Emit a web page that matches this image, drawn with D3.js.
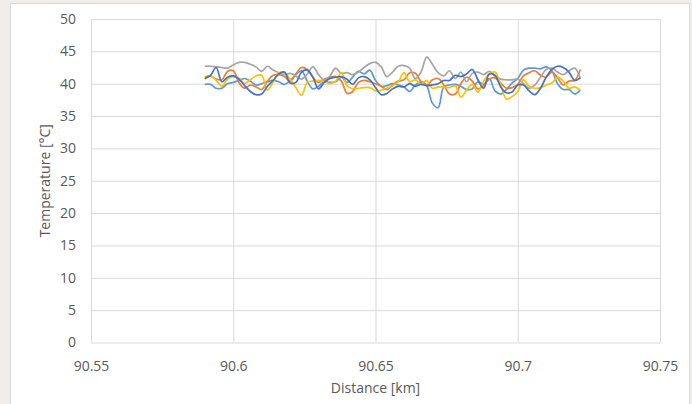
<!DOCTYPE html>
<html>
<head>
<meta charset="utf-8">
<script src="https://cdn.jsdelivr.net/npm/d3@7"></script>
<style>
  body { margin: 0; background: #efeeec; }
  svg { display: block; }
</style>
</head>
<body>
<script>
var w = 692;
var h = 404;

// distance along the cable [km]
var distance = [90.590, 90.592, 90.594, 90.596, 90.598, 90.600, 90.602, 90.604, 90.606, 90.608,
    90.610, 90.612, 90.614, 90.616, 90.618, 90.620, 90.622, 90.624, 90.626, 90.628,
    90.630, 90.632, 90.634, 90.636, 90.638, 90.640, 90.642, 90.644, 90.646, 90.648,
    90.650, 90.652, 90.654, 90.656, 90.658, 90.660, 90.662, 90.664, 90.666, 90.668,
    90.670, 90.672, 90.674, 90.676, 90.678, 90.680, 90.682, 90.684, 90.686, 90.688,
    90.690, 90.692, 90.694, 90.696, 90.698, 90.700, 90.702, 90.704, 90.706, 90.708,
    90.710, 90.712, 90.714, 90.716, 90.718, 90.720, 90.722];

// temperatures [°C], one array per trace
var lightBlue = [39.9, 39.9, 39.3, 39.3, 40.0, 40.2, 40.5, 40.8, 40.4, 39.8,
    40.0, 40.3, 40.5, 40.3, 39.9, 40.5, 41.4, 42.0, 40.4, 39.2,
    39.6, 40.3, 40.2, 40.3, 41.0, 40.2, 41.0, 41.9, 41.5, 42.1,
    40.5, 39.6, 39.7, 40.0, 39.8, 39.5, 38.8, 39.8, 40.3, 39.7,
    37.0, 36.3, 39.5, 39.8, 39.9, 39.6, 39.1, 39.2, 40.3, 39.9,
    40.8, 38.9, 38.4, 39.1, 40.1, 40.8, 42.1, 42.4, 42.4, 42.3,
    42.6, 42.0, 40.0, 39.1, 39.1, 38.4, 39.0];

var orange = [41.0, 41.2, 40.7, 40.6, 41.9, 42.0, 40.2, 39.3, 39.8, 39.5,
    39.1, 40.4, 41.3, 41.4, 41.1, 40.4, 41.5, 42.5, 42.2, 41.0,
    40.2, 40.7, 41.0, 41.1, 40.4, 38.5, 38.8, 40.2, 40.5, 40.3,
    40.0, 39.6, 39.1, 39.8, 40.4, 40.6, 41.7, 41.6, 40.3, 39.8,
    40.6, 40.8, 39.8, 38.4, 38.4, 40.0, 41.0, 40.4, 39.2, 39.7,
    40.7, 40.9, 40.1, 39.3, 39.4, 39.9, 41.2, 41.7, 42.0, 41.3,
    41.0, 41.8, 40.9, 39.8, 40.4, 40.5, 42.2];

var gray = [42.7, 42.7, 42.6, 42.5, 42.4, 42.9, 43.3, 43.3, 43.0, 42.6,
    41.9, 42.7, 42.1, 41.7, 41.4, 41.6, 41.2, 40.7, 41.5, 42.6,
    41.4, 40.5, 41.2, 42.4, 41.6, 41.7, 41.4, 41.8, 42.5, 43.1,
    43.3, 42.6, 41.1, 41.8, 42.7, 42.8, 42.4, 40.8, 41.8, 44.1,
    43.0, 41.7, 41.2, 42.0, 40.8, 41.8, 40.3, 41.6, 41.8, 41.4,
    41.9, 41.2, 40.7, 40.6, 40.6, 40.7, 40.0, 39.3, 39.8, 41.0,
    42.2, 42.4, 41.8, 41.4, 42.0, 42.4, 40.8];

var yellow = [40.7, 41.2, 40.5, 39.6, 40.7, 41.1, 40.9, 40.0, 40.6, 41.2,
    41.3, 39.0, 40.2, 41.7, 41.7, 40.7, 39.4, 38.2, 40.2, 40.4,
    40.5, 40.3, 40.0, 40.4, 41.7, 39.7, 39.2, 39.3, 39.4, 39.4,
    38.9, 39.0, 39.3, 39.7, 40.3, 41.7, 40.3, 40.6, 39.9, 40.5,
    39.3, 39.5, 39.5, 39.4, 39.7, 37.9, 39.0, 39.9, 38.7, 40.4,
    41.5, 41.8, 39.9, 37.6, 38.0, 38.8, 40.6, 39.6, 39.3, 39.4,
    39.8, 40.1, 41.0, 40.4, 39.3, 39.5, 39.0];

var darkBlue = [40.8, 41.3, 42.5, 40.3, 41.0, 41.2, 40.7, 39.7, 38.8, 38.3,
    38.4, 39.6, 40.5, 41.5, 41.8, 40.1, 40.2, 41.8, 42.1, 41.0,
    39.2, 40.2, 40.8, 41.0, 41.1, 40.7, 39.9, 40.9, 41.1, 40.6,
    39.4, 38.3, 38.5, 39.2, 39.6, 39.5, 40.0, 39.6, 39.9, 39.7,
    39.8, 40.0, 40.5, 40.5, 41.3, 41.1, 41.5, 42.2, 40.6, 39.3,
    41.5, 41.3, 39.5, 38.6, 38.7, 39.8, 39.8, 38.9, 38.3, 39.3,
    41.0, 42.2, 42.7, 42.5, 41.8, 40.5, 40.9];

var xTicks = [90.55, 90.6, 90.65, 90.7, 90.75];
var yTicks = [0, 5, 10, 15, 20, 25, 30, 35, 40, 45, 50];

var series = [
    { values: lightBlue, color: "#5b9bd5" },
    { values: orange, color: "#ed7d31" },
    { values: gray, color: "#a5a5a5" },
    { values: yellow, color: "#ffc000" },
    { values: darkBlue, color: "#4472c4" }
];

var margin = { left: 91, right: 32, top: 19, bottom: 61.5 };

var svg = d3.select("body").append("svg")
    .attr("width", w)
    .attr("height", h);

// chart area
svg.append("rect")
    .attr("x", 10.5).attr("y", 3.5)
    .attr("width", 679).attr("height", 402)
    .attr("fill", "#ffffff")
    .attr("stroke", "#d9d9d9");

var x = d3.scaleLinear().domain([90.55, 90.75]).range([margin.left, w - margin.right]);
var y = d3.scaleLinear().domain([0, 50]).range([h - margin.bottom, margin.top]);

var font = "'Open Sans', 'Noto Sans', sans-serif";

// gridlines + tick labels
var xAxis = svg.append("g")
    .attr("transform", "translate(0," + (h - margin.bottom) + ")")
    .call(d3.axisBottom(x).tickValues(xTicks).tickSize(-(h - margin.bottom - margin.top)).tickFormat(d3.format("")));
xAxis.select(".domain").remove();
xAxis.selectAll("line").attr("stroke", "#d9d9d9");
xAxis.selectAll("text")
    .attr("fill", "#595959")
    .attr("dy", null)
    .attr("y", 28.5)
    .style("font-family", font)
    .style("font-size", "14px");

var yAxis = svg.append("g")
    .attr("transform", "translate(" + margin.left + ",0)")
    .call(d3.axisLeft(y).tickValues(yTicks).tickSize(-(w - margin.right - margin.left)));
yAxis.select(".domain").remove();
yAxis.selectAll("line").attr("stroke", "#d9d9d9");
yAxis.selectAll("text")
    .attr("fill", "#595959")
    .attr("x", -15)
    .style("font-family", font)
    .style("font-size", "14px");

// traces
var line = d3.line()
    .x(function(d, i) { return x(distance[i]); })
    .y(function(d) { return y(d); })
    .curve(d3.curveCatmullRom);

svg.selectAll(".trace")
    .data(series)
    .enter().append("path")
    .attr("class", "trace")
    .attr("fill", "none")
    .attr("stroke", function(d) { return d.color; })
    .attr("stroke-width", 1.7)
    .attr("stroke-linejoin", "round")
    .attr("d", function(d) { return line(d.values); });

// axis titles
svg.append("text")
    .attr("x", (margin.left + w - margin.right) / 2)
    .attr("y", 393)
    .attr("text-anchor", "middle")
    .attr("fill", "#595959")
    .style("font-family", font)
    .style("font-size", "14px")
    .text("Distance [km]");

svg.append("text")
    .attr("transform", "translate(50," + ((margin.top + h - margin.bottom) / 2) + ") rotate(-90)")
    .attr("text-anchor", "middle")
    .attr("fill", "#595959")
    .style("font-family", font)
    .style("font-size", "14px")
    .text("Temperature [°C]");
</script>
</body>
</html>
